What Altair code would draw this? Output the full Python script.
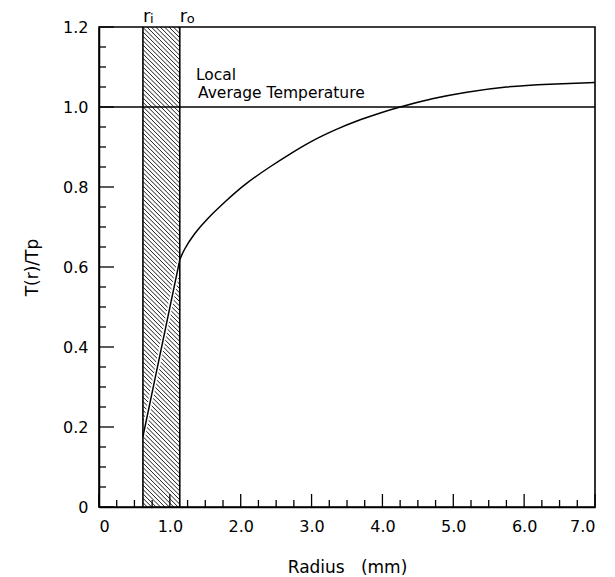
import altair as alt
import pandas as pd
import numpy as np

# ---- data ----
r_inner = 0.62          # r_i
r_outer = 1.14          # r_o
avg_T = 1.0             # local average temperature

wall_r = [0.62, 1.14]
wall_T = [0.176, 0.618]

gas_r = [1.14, 1.21, 1.35, 1.54, 1.78, 2.06, 2.41, 2.70, 3.02, 3.35, 3.64, 3.97, 4.25, 4.72, 5.19, 5.75, 6.36, 7.0]
gas_T = [0.618, 0.645, 0.683, 0.722, 0.763, 0.806, 0.850, 0.883, 0.916, 0.944, 0.965, 0.985, 1.000, 1.021, 1.037, 1.050, 1.057, 1.061]

x_major = [0, 1, 2, 3, 4, 5, 6, 7]
x_minor = [i * 0.25 for i in range(29) if i % 4 != 0]
y_major = [0, 0.2, 0.4, 0.6, 0.8, 1.0, 1.2]
y_minor = [round(i * 0.05, 2) for i in range(25) if i % 4 != 0]

W, H = 496, 480
X_DOM, Y_DOM = [0, 7], [0, 1.2]
FONT = "DejaVu Sans"

xscale = alt.Scale(domain=X_DOM, nice=False, zero=False)
yscale = alt.Scale(domain=Y_DOM, nice=False, zero=False)

xaxis = alt.Axis(
    values=x_major, ticks=False, grid=False, domainColor="black", domainWidth=1.5,
    labelExpr="datum.value == 0 ? '0' : format(datum.value, '.1f')",
    labelFontSize=16, labelFont=FONT, labelColor="black", labelPadding=11,
    title="Radius\u00a0\u00a0\u00a0(mm)", titleFont=FONT, titleFontSize=17, titleFontWeight="normal",
    titleColor="black", titleX=248, titleY=60, titleBaseline="middle", titleAlign="center",
)
yaxis = alt.Axis(
    values=y_major, ticks=False, grid=False, domainColor="black", domainWidth=1.5,
    labelExpr="datum.value == 0 ? '0' : format(datum.value, '.1f')",
    labelFontSize=16, labelFont=FONT, labelColor="black", labelPadding=11,
    title="T(r)/Tp", titleFont=FONT, titleFontSize=17, titleFontWeight="normal",
    titleColor="black", titleX=-67, titleY=240, titleBaseline="middle", titleAlign="center",
)


def X(f):
    return alt.X(f, type="quantitative", scale=xscale, axis=xaxis)


def Y(f):
    return alt.Y(f, type="quantitative", scale=yscale, axis=yaxis)


# hatching of the wall (decoration derived from the wall limits)
xs, ys = W / 7.0, H / 1.2
drop = (r_outer - r_inner) * xs / ys
step = 4.4 / ys
cs = np.arange(0, 1.2 + drop + step, step)
hatch = pd.DataFrame({"x1": r_inner, "x2": r_outer, "y1": cs, "y2": cs - drop})

hatch_layer = alt.Chart(hatch).mark_rule(color="black", strokeWidth=0.9, clip=True).encode(
    x=X("x1"), x2="x2", y=Y("y1"), y2="y2"
)

walls = pd.DataFrame({"r": [r_inner, r_outer]})
wall_edges = alt.Chart(walls).mark_rule(color="black", strokeWidth=1.6).encode(
    x=X("r"), y=alt.value(0), y2=alt.value(H)
)

avg = pd.DataFrame({"T": [avg_T]})
avg_line = alt.Chart(avg).mark_rule(color="black", strokeWidth=1.5).encode(
    y=Y("T"), x=alt.value(0), x2=alt.value(W)
)

wall_df = pd.DataFrame({"r": wall_r, "T": wall_T})
wall_white = alt.Chart(wall_df).mark_line(color="white", strokeWidth=4.5).encode(
    x=X("r"), y=Y("T")
)
wall_line = alt.Chart(wall_df).mark_line(color="black", strokeWidth=1.5).encode(
    x=X("r"), y=Y("T")
)

gas_df = pd.DataFrame({"r": gas_r, "T": gas_T})
gas_line = alt.Chart(gas_df).mark_line(color="black", strokeWidth=1.5, interpolate="natural").encode(
    x=X("r"), y=Y("T")
)

# inward ticks
yt_major = alt.Chart(pd.DataFrame({"v": y_major})).mark_rule(color="black", strokeWidth=1.3).encode(
    y=Y("v"), x=alt.value(0), x2=alt.value(15)
)
yt_minor = alt.Chart(pd.DataFrame({"v": y_minor})).mark_rule(color="black", strokeWidth=1.3).encode(
    y=Y("v"), x=alt.value(0), x2=alt.value(7)
)
xt_major = alt.Chart(pd.DataFrame({"v": x_major})).mark_rule(color="black", strokeWidth=1.3).encode(
    x=X("v"), y=alt.value(H), y2=alt.value(H - 13)
)
xt_minor = alt.Chart(pd.DataFrame({"v": x_minor})).mark_rule(color="black", strokeWidth=1.3).encode(
    x=X("v"), y=alt.value(H), y2=alt.value(H - 7)
)

# labels r_i, r_o
rlab = pd.DataFrame({"r": [r_inner, r_outer], "s": ["r", "r"], "sub": ["i", "o"]})
r_text = alt.Chart(rlab).mark_text(
    align="left", baseline="alphabetic", fontSize=18, font=FONT, color="black", dx=0
).encode(x=X("r"), y=alt.value(-5), text="s:N")
r_sub = alt.Chart(rlab).mark_text(
    align="left", baseline="alphabetic", fontSize=13, font=FONT, color="black", dx=7
).encode(x=X("r"), y=alt.value(-4), text="sub:N")

note = pd.DataFrame({"t": ["Local", "Average Temperature"], "yy": [53, 71], "xx": [97, 99]})
note_text = alt.Chart(note).mark_text(
    align="left", baseline="alphabetic", fontSize=15.5, font=FONT, color="black"
).encode(x=alt.X("xx:Q", scale=None), y=alt.Y("yy:Q", scale=None), text="t:N")

chart = alt.layer(
    hatch_layer, wall_white, wall_line, wall_edges, avg_line, gas_line,
    yt_major, yt_minor, xt_major, xt_minor, r_text, r_sub, note_text,
).properties(
    width=W, height=H,
    autosize=alt.AutoSizeParams(type="none"),
    padding={"left": 99, "top": 27, "right": 20, "bottom": 70},
    background="white",
).configure_view(stroke="black", strokeWidth=1.6)

chart.save("out.html", embed_options={"renderer": "svg", "actions": False})
